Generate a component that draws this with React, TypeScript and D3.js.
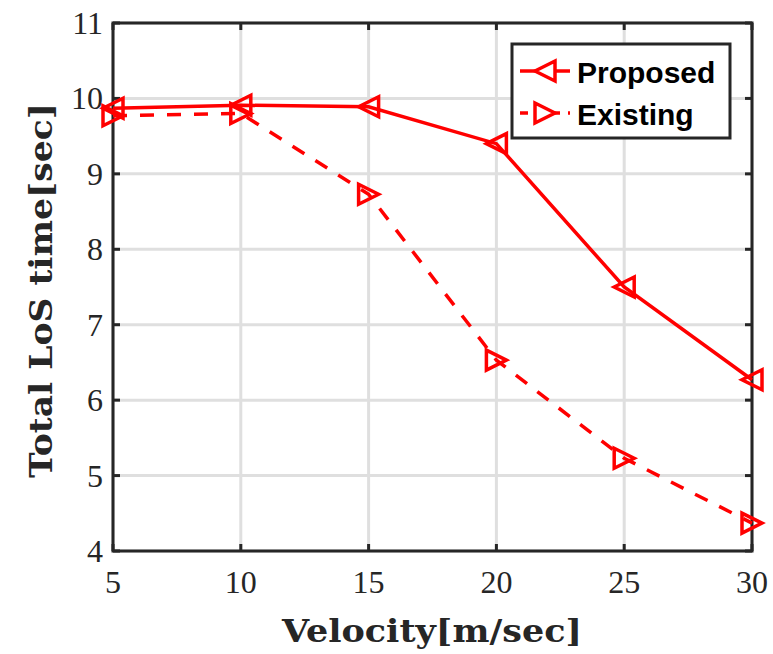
import React, { useEffect, useRef } from 'react';
import * as d3 from 'd3';

const velocity = [5, 10, 15, 20, 25, 30];
const proposed = [9.87, 9.91, 9.89, 9.4, 7.5, 6.27];
const existing = [9.77, 9.8, 8.73, 6.53, 5.23, 4.37];
const xTicks = [5, 10, 15, 20, 25, 30];
const yTicks = [4, 5, 6, 7, 8, 9, 10, 11];

const App = () => {
  const ref = useRef<SVGSVGElement>(null);

  useEffect(() => {
    const svg = d3.select(ref.current);
    svg.selectAll('*').remove();

    const left = 113, right = 752, top = 23, bottom = 551;
    const x = d3.scaleLinear().domain([5, 30]).range([left, right]);
    const y = d3.scaleLinear().domain([4, 11]).range([bottom, top]);
    const red = '#ff0000';
    const dark = '#262626';
    const serif = '"Liberation Serif", "DejaVu Serif", serif';
    const boldSerif = '"DejaVu Serif", serif';

    // grid
    const grid = svg.append('g');
    xTicks.forEach((t) => {
      grid.append('line').attr('x1', x(t)).attr('x2', x(t)).attr('y1', top).attr('y2', bottom)
        .attr('stroke', '#dfdfdf').attr('stroke-width', 3);
    });
    yTicks.forEach((t) => {
      grid.append('line').attr('x1', left).attr('x2', right).attr('y1', y(t)).attr('y2', y(t))
        .attr('stroke', '#dfdfdf').attr('stroke-width', 3);
    });

    // ticks inside box
    const tl = 7;
    xTicks.forEach((t) => {
      svg.append('line').attr('x1', x(t)).attr('x2', x(t)).attr('y1', bottom).attr('y2', bottom - tl)
        .attr('stroke', dark).attr('stroke-width', 3);
      svg.append('line').attr('x1', x(t)).attr('x2', x(t)).attr('y1', top).attr('y2', top + tl)
        .attr('stroke', dark).attr('stroke-width', 3);
    });
    yTicks.forEach((t) => {
      svg.append('line').attr('x1', left).attr('x2', left + tl).attr('y1', y(t)).attr('y2', y(t))
        .attr('stroke', dark).attr('stroke-width', 3);
      svg.append('line').attr('x1', right).attr('x2', right - tl).attr('y1', y(t)).attr('y2', y(t))
        .attr('stroke', dark).attr('stroke-width', 3);
    });

    svg.append('rect').attr('x', left).attr('y', top).attr('width', right - left).attr('height', bottom - top)
      .attr('fill', 'none').attr('stroke', dark).attr('stroke-width', 3);

    // tick labels
    xTicks.forEach((t) => {
      svg.append('text').attr('x', x(t)).attr('y', bottom + 42).attr('text-anchor', 'middle')
        .attr('font-family', serif).attr('font-size', 32).attr('fill', '#262626').text(t);
    });
    yTicks.forEach((t) => {
      svg.append('text').attr('x', left - 10).attr('y', y(t) + 11).attr('text-anchor', 'end')
        .attr('font-family', serif).attr('font-size', 32).attr('fill', '#262626').text(t);
    });

    // axis labels
    svg.append('text').attr('x', 282).attr('y', 642)
      .attr('font-family', boldSerif).attr('font-weight', 'bold').attr('font-size', 32).attr('fill', '#262626')
      .attr('textLength', 300).attr('lengthAdjust', 'spacingAndGlyphs')
      .text('Velocity[m/sec]');
    svg.append('text').attr('transform', `translate(52,478) rotate(-90)`)
      .attr('font-family', boldSerif).attr('font-weight', 'bold').attr('font-size', 32).attr('fill', '#262626')
      .attr('textLength', 375).attr('lengthAdjust', 'spacingAndGlyphs')
      .text('Total LoS time[sec]');

    const line = d3.line<number>().x((_, i) => x(velocity[i])).y((d) => y(d));

    const triangle = (cx: number, cy: number, dir: number, s = 10) => {
      // dir -1 points left, 1 points right
      return `M${cx + dir * s},${cy} L${cx - dir * s},${cy - s} L${cx - dir * s},${cy + s} Z`;
    };

    const series = [
      { values: proposed, dash: null as string | null, dir: -1 },
      { values: existing, dash: '14,13', dir: 1 },
    ];
    series.forEach((s) => {
      svg.append('path').datum(s.values).attr('d', line).attr('fill', 'none').attr('stroke', red)
        .attr('stroke-width', 3.5).attr('stroke-dasharray', s.dash);
      s.values.forEach((v, i) => {
        svg.append('path').attr('d', triangle(x(velocity[i]), y(v), s.dir)).attr('fill', 'none')
          .attr('stroke', red).attr('stroke-width', 3.5);
      });
    });

    // legend
    const lg = svg.append('g');
    lg.append('rect').attr('x', 512).attr('y', 44).attr('width', 218).attr('height', 94)
      .attr('fill', 'white').attr('stroke', dark).attr('stroke-width', 3);
    const entries = [
      { label: 'Proposed', dash: null as string | null, dir: -1, yy: 71 },
      { label: 'Existing', dash: '8,8', dir: 1, yy: 113 },
    ];
    entries.forEach((e) => {
      lg.append('line').attr('x1', 520).attr('x2', 570).attr('y1', e.yy).attr('y2', e.yy)
        .attr('stroke', red).attr('stroke-width', 3.5).attr('stroke-dasharray', e.dash);
      lg.append('path').attr('d', triangle(545, e.yy, e.dir)).attr('fill', 'white')
        .attr('stroke', red).attr('stroke-width', 3.5);
      lg.append('text').attr('x', 577).attr('y', e.yy + 12).attr('font-family', '"Liberation Sans", Arial, sans-serif')
        .attr('font-weight', 'bold').attr('font-size', 30).attr('fill', 'black').text(e.label);
    });
  }, []);

  return (
    <svg ref={ref} width={773} height={654} style={{ position: 'absolute', left: 0, top: 0, background: 'white' }} />
  );
};

export default App;
